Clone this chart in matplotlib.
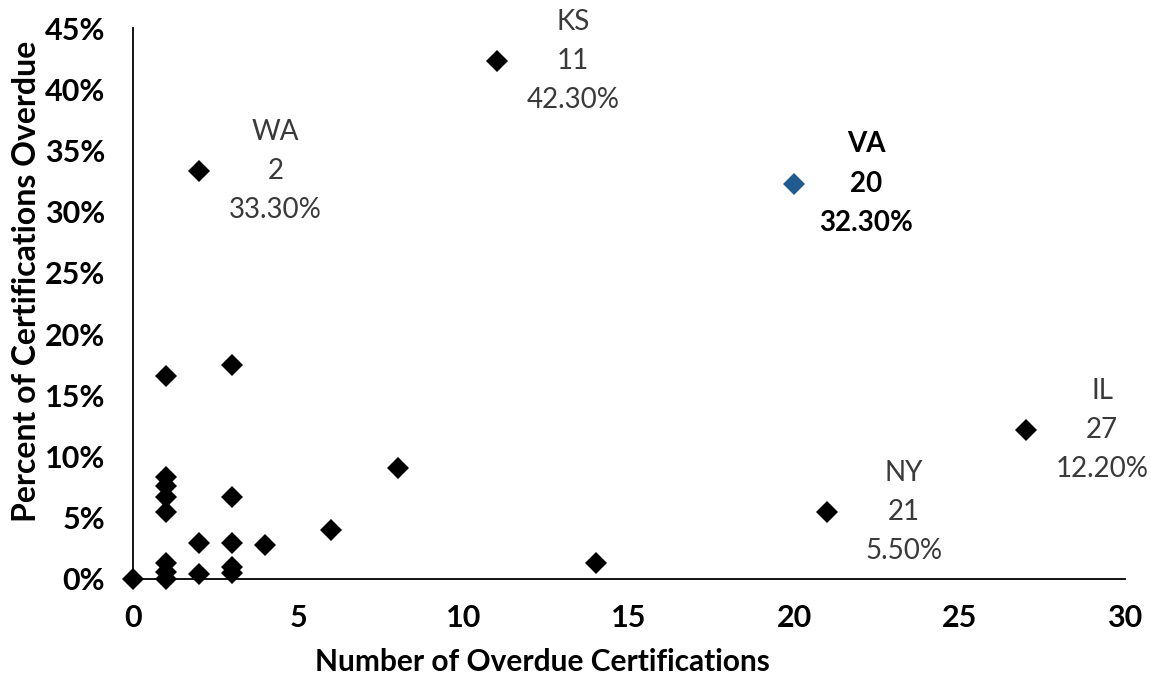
import matplotlib
matplotlib.use("Agg")
import matplotlib.pyplot as plt
from matplotlib.ticker import FuncFormatter

plt.rcParams['font.family'] = ['Lato', 'DejaVu Sans']

# Data: number of overdue certifications vs percent overdue
overdue_count = [0, 1, 1, 1, 1, 1, 1, 1, 1, 2, 2, 3, 3, 3, 3, 3, 4, 6, 8, 14]
overdue_pct = [0.0, 16.6, 8.3, 7.6, 6.7, 5.5, 1.3, 0.6, 0.0, 2.9, 0.4,
               17.5, 6.7, 2.9, 1.0, 0.5, 2.8, 4.0, 9.1, 1.3]

labeled_states = ["KS", "WA", "IL", "NY"]
labeled_count = [11, 2, 27, 21]
labeled_pct = [42.3, 33.3, 12.2, 5.5]

highlight_state = "VA"
highlight_count = 20
highlight_pct = 32.3

x_ticks = [0, 5, 10, 15, 20, 25, 30]
y_ticks = [0, 5, 10, 15, 20, 25, 30, 35, 40, 45]

W, H = 1151, 680
fig = plt.figure(figsize=(W / 100, H / 100), dpi=100)
ax = fig.add_axes([133 / W, 1 - 579 / H, (1125 - 133) / W, (579 - 28) / H])

mk = dict(marker='D', markersize=11.5, linestyle='none', markeredgewidth=0,
          clip_on=False, zorder=5)
ax.plot(overdue_count, overdue_pct, color='black', **mk)
ax.plot(labeled_count, labeled_pct, color='black', **mk)
ax.plot([highlight_count], [highlight_pct], color='#1f5b8e', **mk)

for st, c, p in zip(labeled_states, labeled_count, labeled_pct):
    ax.annotate(f"{st}\n{c}\n{p:.2f}%", (c, p), xytext=(55, 0),
                textcoords='offset points', ha='center', va='center',
                fontsize=20, color='#3a3a3a', linespacing=1.62, zorder=6,
                annotation_clip=False)
ax.annotate(f"{highlight_state}\n{highlight_count}\n{highlight_pct:.2f}%",
            (highlight_count, highlight_pct), xytext=(52, 0),
            textcoords='offset points', ha='center', va='center',
            fontsize=20, fontweight='bold', color='black', linespacing=1.62,
            zorder=6, annotation_clip=False)

ax.set_xlim(0, 30)
ax.set_ylim(0, 45)
ax.set_xticks(x_ticks)
ax.set_yticks(y_ticks)
ax.yaxis.set_major_formatter(FuncFormatter(lambda v, _: f"{v:.0f}%"))
for s in ['top', 'right']:
    ax.spines[s].set_visible(False)
for s in ['left', 'bottom']:
    ax.spines[s].set_linewidth(1.3)
    ax.spines[s].set_color('black')
ax.tick_params(axis='both', length=0, labelsize=22, colors='black')
ax.tick_params(axis='y', pad=20)
ax.tick_params(axis='x', pad=18)
for lab in ax.get_xticklabels() + ax.get_yticklabels():
    lab.set_fontweight('bold')

fig.text(542 / W, 1 - 662 / H, "Number of Overdue Certifications",
         fontsize=21.5, fontweight='bold', ha='center', va='center')
fig.text(27 / W, 1 - 281 / H, "Percent of Certifications Overdue",
         fontsize=23, fontweight='bold', ha='center', va='center', rotation=90)

fig.savefig("out.png", dpi=100)
